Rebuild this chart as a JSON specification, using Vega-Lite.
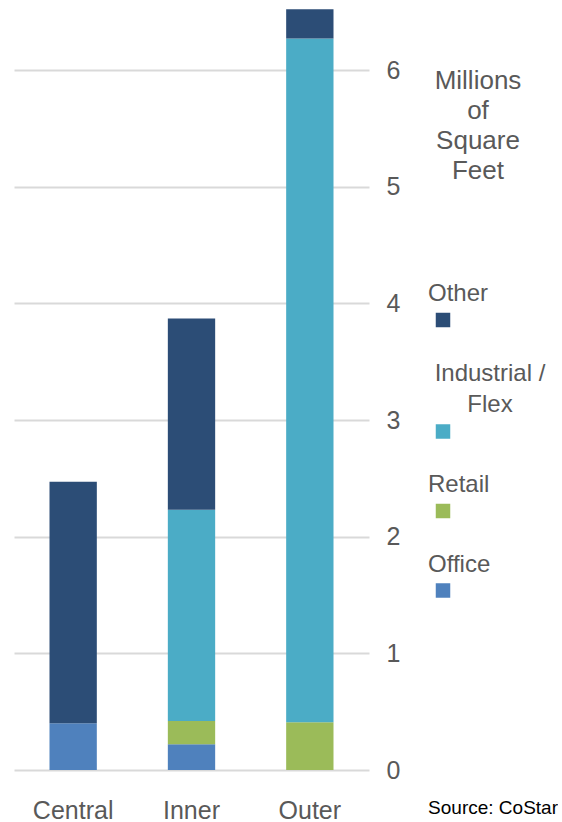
{
  "$schema": "https://vega.github.io/schema/vega-lite/v6.json",
  "width": 355,
  "height": 770,
  "padding": {"left": 14, "top": 0, "right": 0, "bottom": 0},
  "background": "white",
  "data": {
    "values": [
      {"zone": "Central", "type": "Office", "value": 0.40, "rank": 1},
      {"zone": "Central", "type": "Other", "value": 2.07, "rank": 4},
      {"zone": "Inner", "type": "Office", "value": 0.22, "rank": 1},
      {"zone": "Inner", "type": "Retail", "value": 0.20, "rank": 2},
      {"zone": "Inner", "type": "Industrial / Flex", "value": 1.81, "rank": 3},
      {"zone": "Inner", "type": "Other", "value": 1.64, "rank": 4},
      {"zone": "Outer", "type": "Retail", "value": 0.41, "rank": 2},
      {"zone": "Outer", "type": "Industrial / Flex", "value": 5.86, "rank": 3},
      {"zone": "Outer", "type": "Other", "value": 0.25, "rank": 4}
    ]
  },
  "title": {
    "text": "Source: CoStar",
    "orient": "bottom",
    "anchor": "end",
    "frame": "bounds",
    "fontSize": 19,
    "font": "Liberation Sans",
    "fontWeight": "normal",
    "color": "#000000",
    "offset": 0,
    "dy": -24,
    "dx": 12
  },
  "mark": {"type": "bar"},
  "encoding": {
    "x": {
      "field": "zone",
      "type": "nominal",
      "sort": ["Central", "Inner", "Outer"],
      "scale": {"paddingInner": 0.6, "paddingOuter": 0.3},
      "axis": {
        "title": null,
        "labelAngle": 0,
        "labelFontSize": 25,
        "labelFont": "Liberation Sans",
        "labelColor": "#595959",
        "labelPadding": 28,
        "labelBaseline": "top",
        "ticks": false,
        "domain": false
      }
    },
    "y": {
      "field": "value",
      "type": "quantitative",
      "stack": "zero",
      "scale": {"domain": [0, 6.6], "nice": false},
      "axis": {
        "orient": "right",
        "title": null,
        "values": [0, 1, 2, 3, 4, 5, 6],
        "labelFontSize": 25,
        "labelFont": "Liberation Sans",
        "labelColor": "#595959",
        "labelPadding": 17,
        "labelAlign": "left",
        "labelBaseline": "middle",
        "ticks": false,
        "domain": false,
        "gridColor": "#d9d9d9",
        "gridWidth": 2
      }
    },
    "color": {
      "field": "type",
      "type": "nominal",
      "scale": {
        "domain": ["Other", "Industrial / Flex", "Retail", "Office"],
        "range": ["#2C4D76", "#4BACC6", "#9BBB59", "#4F81BD"]
      },
      "legend": {
        "orient": "none",
        "legendX": 409,
        "legendY": 68,
        "padding": 0,
        "title": ["Millions", "of", "Square", "Feet"],
        "titleFontSize": 26,
        "titleFont": "Liberation Sans",
        "titleFontWeight": "normal",
        "titleColor": "#595959",
        "titleLineHeight": 30,
        "titleAlign": "center",
        "titleAnchor": "middle",
        "titleBaseline": "top",
        "titlePadding": 124,
        "labelFontSize": 24,
        "labelFont": "Liberation Sans",
        "labelColor": "#595959",
        "labelOffset": -27,
        "labelBaseline": "bottom",
        "labelExpr": "datum.label == 'Industrial / Flex' ? ['Industrial /', 'Flex'] : datum.label",
        "symbolType": "square",
        "symbolSize": 210,
        "symbolOffset": 8,
        "symbolStrokeWidth": 0,
        "symbolOpacity": 1,
        "rowPadding": 33.5,
        "encode": {
          "title": {"update": {"dx": {"value": -6}}},
          "labels": {
            "update": {
              "dy": {"signal": "datum.label == 'Industrial / Flex' ? -46 : -14"},
              "dx": {"signal": "datum.label == 'Industrial / Flex' ? 62 : 0"},
              "align": {"signal": "datum.label == 'Industrial / Flex' ? 'center' : 'left'"},
              "lineHeight": {"value": 31}
            }
          }
        }
      }
    },
    "order": {"field": "rank", "type": "quantitative"}
  },
  "config": {"view": {"stroke": null}}
}
